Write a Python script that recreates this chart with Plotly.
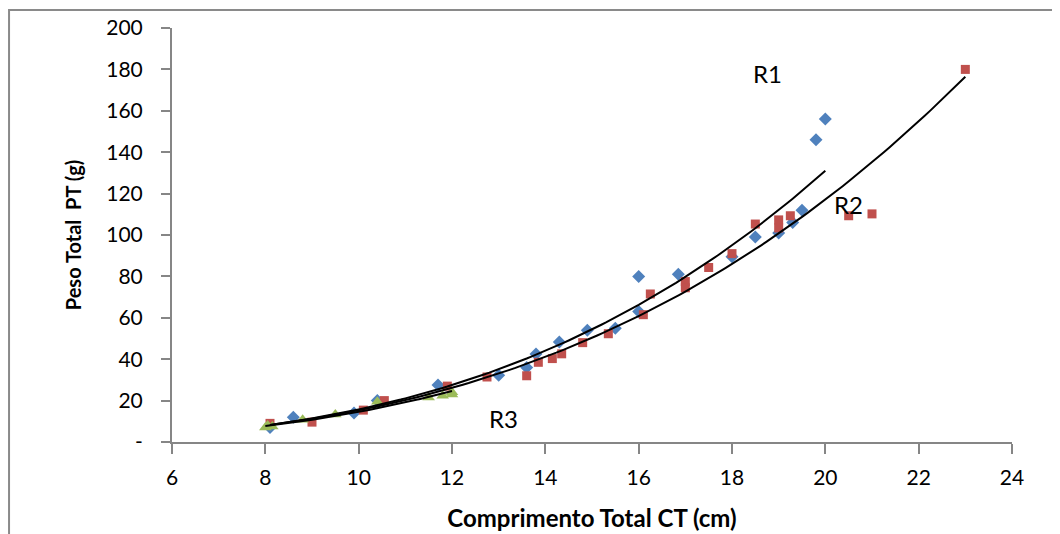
import numpy as np
import plotly.graph_objects as go

# R1 (blue diamonds)
r1_ct = [8.1, 8.6, 9.9, 10.4, 11.7, 13.0, 13.6, 13.8, 14.3, 14.9, 15.5, 16.0, 16.0, 16.85,
         18.0, 18.5, 19.0, 19.3, 19.5, 19.8, 20.0]
r1_pt = [7, 12, 14, 20, 27.5, 32.3, 36, 42.5, 48.3, 54, 55, 80, 63, 81,
         89.5, 99, 101, 106, 112, 146, 156]

# R2 (red squares)
r2_ct = [8.1, 9.0, 10.1, 10.55, 11.9, 12.75, 13.6, 13.85, 14.15, 14.35, 14.8, 15.35, 16.1, 16.25,
         17.0, 17.0, 17.5, 18.0, 18.5, 19.0, 19.0, 19.25, 20.5, 21.0, 23.0]
r2_pt = [9, 9.6, 15.4, 20, 27, 31.4, 32, 38.5, 40.3, 42.6, 48, 52.3, 61.5, 71.5,
         77.5, 74.5, 84.3, 91, 105.3, 107.3, 103.4, 109.3, 109.3, 110.2, 180]

# R3 (green triangles)
r3_ct = [8.0, 8.05, 8.15, 8.8, 9.5, 10.4, 11.5, 11.8, 12.0, 12.0]
r3_pt = [7, 8, 7.5, 10.8, 13.3, 19.5, 21.5, 22.3, 23, 24]

y_ticks = [0, 20, 40, 60, 80, 100, 120, 140, 160, 180, 200]
y_labels = ["-", "20", "40", "60", "80", "100", "120", "140", "160", "180", "200"]
x_ticks = [6, 8, 10, 12, 14, 16, 18, 20, 22, 24]

BLUE = "#4F81BD"
RED = "#C0504D"
GREEN = "#9BBB59"
FONT = "Lato, 'Open Sans', sans-serif"


def power_fit(x, y, n=120):
    x = np.asarray(x, float)
    y = np.asarray(y, float)
    b, ln_a = np.polyfit(np.log(x), np.log(y), 1)
    xs = np.linspace(x.min(), x.max(), n)
    return xs, np.exp(ln_a) * xs ** b


fig = go.Figure()
fig.add_trace(go.Scatter(x=r1_ct, y=r1_pt, mode="markers", name="R1",
                         marker=dict(symbol="diamond", size=10, color=BLUE)))
fig.add_trace(go.Scatter(x=r2_ct, y=r2_pt, mode="markers", name="R2",
                         marker=dict(symbol="square", size=9, color=RED)))
fig.add_trace(go.Scatter(x=r3_ct, y=r3_pt, mode="markers", name="R3",
                         marker=dict(symbol="triangle-up", size=11, color=GREEN)))

for cx, cy in [(r1_ct, r1_pt), (r2_ct, r2_pt), (r3_ct, r3_pt)]:
    fx, fy = power_fit(cx, cy)
    fig.add_trace(go.Scatter(x=fx, y=fy, mode="lines", showlegend=False,
                             line=dict(color="black", width=2)))

for txt, ax_, ay_ in [("R1", 18.75, 178), ("R2", 20.5, 114.5), ("R3", 13.1, 11.5)]:
    fig.add_annotation(x=ax_, y=ay_, text=txt, showarrow=False,
                       font=dict(size=24, color="black", family=FONT))

# outer chart border
fig.add_shape(type="rect", xref="paper", yref="paper",
              x0=-0.194, x1=1.2, y0=-0.4, y1=1.0435,
              line=dict(color="#8A8A8A", width=2), fillcolor="rgba(0,0,0,0)", layer="below")

fig.update_layout(
    width=1060, height=534,
    margin=dict(l=164, r=56, t=20, b=100),
    paper_bgcolor="white", plot_bgcolor="white",
    showlegend=False,
    font=dict(family=FONT, color="black"),
)
fig.update_xaxes(
    range=[6, 24], tickvals=x_ticks, showgrid=False, zeroline=False, automargin=False,
    showline=True, linecolor="#868686", linewidth=2,
    ticks="outside", ticklen=10, tickwidth=2, tickcolor="#868686",
    tickfont=dict(size=21, family=FONT), ticklabelstandoff=6,
    title=dict(text="<b>Comprimento Total CT (cm)</b>", font=dict(size=24, family=FONT), standoff=22),
)
fig.update_yaxes(
    range=[0, 200], tickvals=y_ticks, ticktext=y_labels, showgrid=False, zeroline=False,
    automargin=False,
    showline=True, linecolor="#868686", linewidth=2,
    ticks="outside", ticklen=9, tickwidth=2, tickcolor="#868686",
    tickfont=dict(size=21, family=FONT), ticklabelstandoff=14,
    title=dict(text="<b>Peso Total  PT (g)</b>", font=dict(size=20, family=FONT), standoff=19),
)

fig.write_html("out.html")
